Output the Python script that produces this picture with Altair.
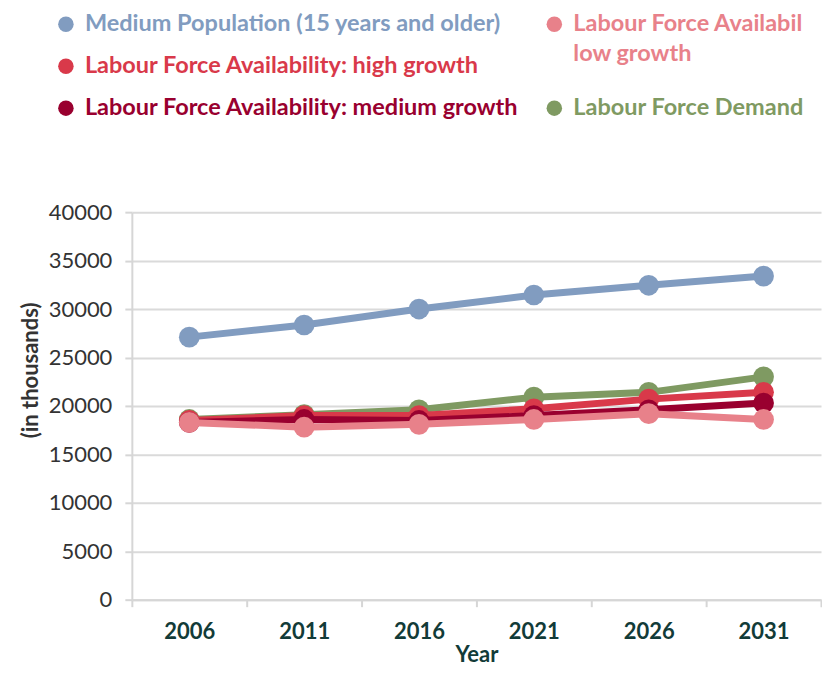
import altair as alt
import pandas as pd

# ---------------- data ----------------
years = ["2006", "2011", "2016", "2021", "2026", "2031"]

series_names = [
    "Medium Population (15 years and older)",
    "Labour Force Demand",
    "Labour Force Availability: high growth",
    "Labour Force Availability: medium growth",
    "Labour Force Availability: low growth",
]
medium_population = [27100, 28350, 30000, 31450, 32450, 33400]
labour_demand = [18600, 19100, 19600, 20900, 21400, 23000]
high_growth = [18500, 19000, 19000, 19700, 20700, 21400]
medium_growth = [18300, 18600, 18500, 19000, 19600, 20300]
low_growth = [18300, 17800, 18100, 18600, 19200, 18600]

series_colors = ["#819cc0", "#7f9a62", "#d9394a", "#99002f", "#e8818a"]
y_tick_values = [0, 5000, 10000, 15000, 20000, 25000, 30000, 35000, 40000]

# legend layout (text lines, column, row, whether a dot is drawn)
legend_labels = [
    "Medium Population (15 years and older)",
    "Labour Force Availability: high growth",
    "Labour Force Availability: medium growth",
    "Labour Force Availability:",
    "low growth",
    "Labour Force Demand",
]
legend_colors = ["#819cc0", "#d9394a", "#99002f", "#e8818a", "#e8818a", "#7f9a62"]
legend_cols = [0, 0, 0, 1, 1, 1]
legend_rows = [0, 1, 2.0, 0, 0.72, 2.0]
legend_dot = [True, True, True, True, False, True]

# ---------------- tables ----------------
all_values = [medium_population, labour_demand, high_growth, medium_growth, low_growth]
rows = []
for name, vals in zip(series_names, all_values):
    for yr, v in zip(years, vals):
        rows.append({"series": name, "year": yr, "value": v})
df = pd.DataFrame(rows)

legend_df = pd.DataFrame({
    "label": legend_labels,
    "color": legend_colors,
    "col": legend_cols,
    "row": legend_rows,
    "dot": legend_dot,
})

FONT = "Lato"
PLOT_W = 690
PLOT_H = 388
LEG_H = 120

color_scale = alt.Scale(domain=series_names, range=series_colors)

x_enc = alt.X(
    "year:N",
    sort=years,
    bandPosition=0.5,
    scale=alt.Scale(type="band", domain=years, paddingInner=0, paddingOuter=0),
    axis=alt.Axis(
        title="Year",
        labelAngle=0,
        tickBand="extent",
        grid=False,
        tickSize=7,
        labelPadding=15,
        titlePadding=2,
        labelFont=FONT,
        labelFontSize=22,
        labelFontWeight="bold",
        labelColor="#123b38",
        titleFont=FONT,
        titleFontSize=22,
        titleFontWeight="bold",
        titleColor="#123b38",
    ),
)
y_enc = alt.Y(
    "value:Q",
    scale=alt.Scale(domain=[0, 40000], nice=False),
    axis=alt.Axis(
        title="(in thousands)",
        values=y_tick_values,
        format="d",
        tickSize=7,
        labelPadding=13,
        titlePadding=6,
        titleY=158,
        labelFont=FONT,
        labelFontSize=22,
        labelColor="#333333",
        titleFont=FONT,
        titleFontSize=22,
        titleFontWeight="bold",
        titleColor="#333333",
    ),
)

layers = []
for name in series_names:
    base = alt.Chart(df).transform_filter(alt.datum.series == name)
    line = base.mark_line(strokeWidth=7).encode(
        x=x_enc, y=y_enc, color=alt.Color("series:N", scale=color_scale, legend=None)
    )
    dots = base.mark_circle(size=430, opacity=1).encode(
        x=x_enc, y=y_enc, color=alt.Color("series:N", scale=color_scale, legend=None)
    )
    layers += [line, dots]

main = alt.layer(*layers).properties(width=PLOT_W, height=PLOT_H)

# legend panel
leg_x = alt.X("col:Q", axis=None, scale=alt.Scale(domain=[0.135, 1.546], nice=False, zero=False))
leg_y = alt.Y("row:Q", axis=None, scale=alt.Scale(domain=[-0.38, 2.48], reverse=True, nice=False, zero=False))

leg_dots = alt.Chart(legend_df).transform_filter(alt.datum.dot).mark_circle(
    size=240, opacity=1
).encode(x=leg_x, y=leg_y, color=alt.Color("color:N", scale=None))

text_style = dict(align="left", baseline="middle", dx=19, font=FONT, fontSize=23.5,
                  fontWeight="bold", ellipsis=" ")
leg_text_left = alt.Chart(legend_df).transform_filter(alt.datum.col == 0).mark_text(
    limit=600, **text_style
).encode(x=leg_x, y=leg_y, text="label:N", color=alt.Color("color:N", scale=None))
leg_text_right = alt.Chart(legend_df).transform_filter(alt.datum.col == 1).mark_text(
    limit=240, **text_style
).encode(x=leg_x, y=leg_y, text="label:N", color=alt.Color("color:N", scale=None))

legend = alt.layer(leg_dots, leg_text_left, leg_text_right).properties(width=PLOT_W, height=LEG_H)

chart = (
    alt.vconcat(legend, main, spacing=84, bounds="flush")
    .properties(padding={"left": 11, "top": 0, "right": 0, "bottom": 0})
    .configure_view(stroke=None)
    .configure_axis(
        domainColor="#d6d6d6",
        domainWidth=2,
        tickColor="#d6d6d6",
        tickWidth=2,
        gridColor="#dadada",
        gridWidth=2,
    )
)

chart.save("out.html", embed_options={"renderer": "svg", "actions": False})
